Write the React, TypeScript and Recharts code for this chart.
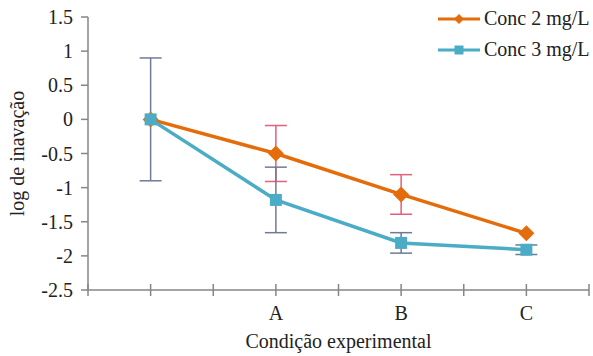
import React from "react";
import {
  LineChart,
  Line,
  XAxis,
  YAxis,
  ErrorBar,
  Legend,
  Label,
} from "recharts";

// categories along the x axis (first one has no label)
const categories = ["", "A", "B", "C"];
const conc2 = [0, -0.5, -1.1, -1.67];
const conc2Err = [0, 0.41, 0.29, 0];
const conc3 = [0, -1.18, -1.81, -1.91];
const conc3Err = [0.9, 0.48, 0.15, 0.07];
const xTicks = [0.5, 1, 1.5, 2, 2.5, 3, 3.5, 4, 4.5];
const yTicks = [-2.5, -2, -1.5, -1, -0.5, 0, 0.5, 1, 1.5];

const ORANGE = "#E46C0A";
const TEAL = "#4BACC6";
const AXIS = "#868686";
const FONT = "Liberation Serif, DejaVu Serif, serif";

const data = categories.map((c, i) => ({
  x: i + 1,
  label: c,
  conc2: conc2[i],
  conc2Err: conc2Err[i],
  conc3: conc3[i],
  conc3Err: conc3Err[i],
}));

const Diamond = (props: any) => {
  const { cx, cy, size = 8 } = props;
  if (cx == null || cy == null) return <g />;
  const r = size;
  return (
    <polygon
      points={`${cx},${cy - r} ${cx + r},${cy} ${cx},${cy + r} ${cx - r},${cy}`}
      fill={ORANGE}
    />
  );
};

const Square = (props: any) => {
  const { cx, cy, size = 6 } = props;
  if (cx == null || cy == null) return <g />;
  const s = size;
  return <rect x={cx - s} y={cy - s} width={s * 2} height={s * 2} fill={TEAL} />;
};

// x ticks cross the axis line, like the original
const XTick = (props: any) => {
  const { x, y, payload } = props;
  const idx = Math.round(payload.value) - 1;
  const isCat = Number.isInteger(payload.value);
  const text = isCat ? categories[idx] : "";
  return (
    <g>
      <line x1={x} x2={x} y1={y - 22} y2={y - 10} stroke={AXIS} strokeWidth={1.5} />
      <text
        x={x}
        y={y}
        dy="0.71em"
        textAnchor="middle"
        fill="#222"
        fontSize={20}
        fontFamily={FONT}
      >
        {text}
      </text>
    </g>
  );
};

const LegendContent = (props: any) => {
  const { payload = [] } = props;
  return (
    <div style={{ fontFamily: FONT, fontSize: 20, color: "#222" }}>
      {payload.map((p: any, i: number) => (
        <div
          key={p.value}
          style={{ display: "flex", alignItems: "center", height: 31 }}
        >
          <svg width={46} height={16} style={{ marginRight: 2 }}>
            <line x1={2} x2={44} y1={8} y2={8} stroke={p.color} strokeWidth={3} />
            {i === 0 ? (
              <Diamond cx={23} cy={8} size={5} />
            ) : (
              <Square cx={23} cy={8} size={4.5} />
            )}
          </svg>
          <span>{p.value}</span>
        </div>
      ))}
    </div>
  );
};

export default function App() {
  return (
    <div style={{ width: 593, height: 356, background: "#fff" }}>
      <style>{"body{margin:0}"}</style>
      <LineChart
        width={593}
        height={356}
        data={data}
        margin={{ top: 17, right: 4, bottom: 0, left: 0 }}
      >
        <XAxis
          dataKey="x"
          type="number"
          domain={[0.5, 4.5]}
          ticks={xTicks}
          tickLine={false}
          tickSize={0}
          tickMargin={16}
          tick={<XTick />}
          stroke={AXIS}
          strokeWidth={1.5}
          height={66}
          interval={0}
        >
          <Label
            value="Condição experimental"
            position="insideBottom"
            offset={8}
            fill="#222"
            fontSize={20}
            fontFamily={FONT}
          />
        </XAxis>
        <YAxis
          type="number"
          domain={[-2.5, 1.5]}
          ticks={yTicks}
          interval={0}
          width={88}
          tickSize={7}
          tickMargin={8}
          stroke={AXIS}
          strokeWidth={1.5}
          tick={{ fill: "#222", fontSize: 20, fontFamily: FONT }}
        >
          <Label
            value="log de inavação"
            angle={-90}
            position="center"
            dx={-27}
            fill="#222"
            fontSize={20}
            fontFamily={FONT}
          />
        </YAxis>
        <Legend
          layout="horizontal"
          verticalAlign="middle"
          align="center"
          content={<LegendContent />}
          wrapperStyle={{ top: 3, left: 436, width: 157 }}
        />
        <Line
          name="Conc 2 mg/L"
          dataKey="conc2"
          stroke={ORANGE}
          strokeWidth={3.5}
          dot={<Diamond />}
          activeDot={false}
          isAnimationActive={false}
        >
          <ErrorBar dataKey="conc2Err" stroke="#E2607A" strokeWidth={1.5} width={11} />
        </Line>
        <Line
          name="Conc 3 mg/L"
          dataKey="conc3"
          stroke={TEAL}
          strokeWidth={3.5}
          dot={<Square />}
          activeDot={false}
          isAnimationActive={false}
        >
          <ErrorBar dataKey="conc3Err" stroke="#6E7B96" strokeWidth={1.5} width={11} />
        </Line>
      </LineChart>
    </div>
  );
}
